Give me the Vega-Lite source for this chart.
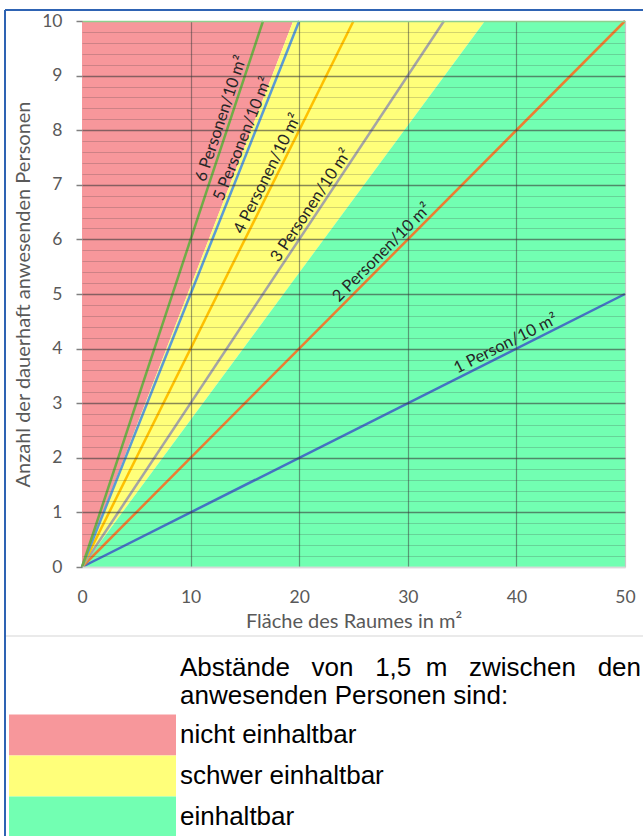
{
  "$schema": "https://vega.github.io/schema/vega-lite/v6.json",
  "width": 543,
  "height": 546,
  "autosize": {"type": "pad"},
  "padding": {"left": 4, "top": 9, "right": 0, "bottom": 0},
  "background": "white",
  "config": {"view": {"stroke": null}},
  "datasets": {
    "zones": [
      {"zone": "nicht einhaltbar", "x": 0, "y": 0, "y2": 10},
      {"zone": "nicht einhaltbar", "x": 19.45, "y": 10, "y2": 10},
      {"zone": "schwer einhaltbar", "x": 0, "y": 0, "y2": 0},
      {"zone": "schwer einhaltbar", "x": 19.45, "y": 5.24, "y2": 10},
      {"zone": "schwer einhaltbar", "x": 37.1, "y": 10, "y2": 10},
      {"zone": "einhaltbar", "x": 0, "y": 0, "y2": 0},
      {"zone": "einhaltbar", "x": 37.1, "y": 0, "y2": 10},
      {"zone": "einhaltbar", "x": 50, "y": 0, "y2": 10}
    ],
    "lines": [
      {"k": 1, "x": 0, "y": 0}, {"k": 1, "x": 50, "y": 5},
      {"k": 2, "x": 0, "y": 0}, {"k": 2, "x": 50, "y": 10},
      {"k": 3, "x": 0, "y": 0}, {"k": 3, "x": 33.33, "y": 10},
      {"k": 4, "x": 0, "y": 0}, {"k": 4, "x": 25, "y": 10},
      {"k": 5, "x": 0, "y": 0}, {"k": 5, "x": 20, "y": 10},
      {"k": 6, "x": 0, "y": 0}, {"k": 6, "x": 16.67, "y": 10}
    ],
    "labels": [
      {"k": 1, "text": "1 Person/10 m²", "x": 39.4, "y": 3.94},
      {"k": 2, "text": "2 Personen/10 m²", "x": 28.2, "y": 5.64},
      {"k": 3, "text": "3 Personen/10 m²", "x": 21.78, "y": 6.53},
      {"k": 4, "text": "4 Personen/10 m²", "x": 17.83, "y": 7.13},
      {"k": 5, "text": "5 Personen/10 m²", "x": 15.56, "y": 7.78},
      {"k": 6, "text": "6 Personen/10 m²", "x": 13.6, "y": 8.16}
    ]
  },
  "layer": [
    {
      "encoding": {
        "x": {
          "field": "x", "type": "quantitative",
          "scale": {"domain": [0, 50], "nice": false, "zero": false},
          "axis": {
            "title": "Fläche des Raumes in m²",
            "values": [0, 10, 20, 30, 40, 50],
            "grid": true,
            "gridColor": {"condition": {"test": "datum.value === 50", "value": "#c8c8c8"}, "value": "#3a3a3a"},
            "gridOpacity": {"condition": [{"test": "datum.value === 0", "value": 0}, {"test": "datum.value === 50", "value": 1}], "value": 0.5},
            "gridWidth": 1.2,
            "ticks": false,
            "tickSize": 0,
            "domain": true,
            "domainColor": "#d9d9d9",
            "domainWidth": 1.5,
            "labelFont": "Lato",
            "labelFontSize": 17.5,
            "labelColor": "#595959",
            "labelPadding": 21,
            "labelFlush": false,
            "titleFont": "Lato",
            "titleFontSize": 20,
            "titleFontWeight": "normal",
            "titleColor": "#595959",
            "titlePadding": 6,
            "zindex": 1
          }
        },
        "y": {
          "field": "y", "type": "quantitative", "stack": null,
          "scale": {"domain": [0, 10], "nice": false, "zero": false},
          "axis": {
            "title": "Anzahl der dauerhaft anwesenden Personen",
            "values": [0, 0.2, 0.4, 0.6, 0.8, 1, 1.2, 1.4, 1.6, 1.8, 2, 2.2, 2.4, 2.6, 2.8, 3, 3.2, 3.4, 3.6, 3.8, 4, 4.2, 4.4, 4.6, 4.8, 5, 5.2, 5.4, 5.6, 5.8, 6, 6.2, 6.4, 6.6, 6.8, 7, 7.2, 7.4, 7.6, 7.8, 8, 8.2, 8.4, 8.6, 8.8, 9, 9.2, 9.4, 9.6, 9.8, 10],
            "labelExpr": "datum.value % 1 === 0 ? format(datum.value, 'd') : ''",
            "labelOverlap": false,
            "grid": true,
            "gridColor": {"condition": [{"test": "datum.value === 10", "value": "#8fd08f"}, {"test": "datum.value === 0", "value": "#d9d9d9"}], "value": "#3a3a3a"},
            "gridOpacity": {"condition": [{"test": "datum.value === 10 || datum.value === 0", "value": 1}, {"test": "datum.value % 1 === 0", "value": 0.6}], "value": 0.22},
            "gridWidth": {"condition": {"test": "datum.value % 1 === 0", "value": 1.6}, "value": 1},
            "tickSize": 6,
            "tickColor": "#808080",
            "tickWidth": 1.5,
            "tickOpacity": {"condition": {"test": "datum.value % 1 === 0", "value": 1}, "value": 0},
            "domain": false,
            "labelFont": "Lato",
            "labelFontSize": 17.5,
            "labelColor": "#595959",
            "labelPadding": 14,
            "titleFont": "Lato",
            "titleFontSize": 20,
            "titleFontWeight": "normal",
            "titleColor": "#595959",
            "titlePadding": 8,
            "zindex": 1
          }
        }
      },
      "layer": [
        {
          "data": {"name": "zones"},
          "mark": {"type": "area", "opacity": 1, "interpolate": "linear"},
          "encoding": {
            "y2": {"field": "y2"},
            "fill": {
              "field": "zone", "type": "nominal",
              "scale": {"domain": ["nicht einhaltbar", "schwer einhaltbar", "einhaltbar"], "range": ["#F7979B", "#FFFF7A", "#72FFB2"]},
              "legend": {
                "title": ["Abstände\u00a0\u00a0\u00a0von\u00a0\u00a0\u00a01,5\u00a0\u00a0m\u00a0\u00a0\u00a0zwischen\u00a0\u00a0\u00a0den", "anwesenden Personen sind:"],
                "orient": "none",
                "legendX": 98,
                "legendY": 633.5,
                "direction": "vertical",
                "padding": 0,
                "offset": 0,
                "titleFont": "Liberation Sans",
                "titleFontSize": 26,
                "titleFontWeight": "normal",
                "titleColor": "#000000",
                "titleLineHeight": 28,
                "titleLimit": 700,
                "titleAnchor": "start",
                "titleAlign": "left",
                "titlePadding": 6,
                "symbolType": "M-4.073,-1H4.073V1H-4.073Z",
                "symbolSize": 1681,
                "symbolStrokeWidth": 0,
                "symbolOpacity": 1,
                "symbolOffset": -108,
                "labelOffset": 67,
                "labelFont": "Liberation Sans",
                "labelFontSize": 26,
                "labelColor": "#000000",
                "labelLimit": 500,
                "rowPadding": 0
              }
            }
          }
        },
        {
          "data": {"name": "lines"},
          "mark": {"type": "line", "strokeWidth": 2.5},
          "encoding": {
            "stroke": {
              "field": "k", "type": "nominal",
              "scale": {"domain": [1, 2, 3, 4, 5, 6], "range": ["#4472C4", "#ED7D31", "#A5A5A5", "#FFC000", "#5B9BD5", "#70AD47"]},
              "legend": null
            }
          }
        },
        {
          "data": {"name": "labels"},
          "mark": {"type": "text", "font": "Lato", "fontSize": 16.5, "color": "#262626", "align": "center", "baseline": "alphabetic", "dy": -4},
          "encoding": {
            "text": {"field": "text"},
            "angle": {
              "field": "k", "type": "quantitative",
              "scale": {"type": "linear", "domain": [1, 2, 3, 4, 5, 6], "range": [333.31, 314.84, 303.55, 296.44, 291.7, 288.34]},
              "legend": null
            }
          }
        }
      ]
    },
    {
      "encoding": {
        "x": {
          "datum": -7.09, "type": "quantitative",
          "scale": {"domain": [0, 50], "nice": false, "zero": false},
          "axis": {
            "title": "Fläche des Raumes in m²",
            "values": [0, 10, 20, 30, 40, 50],
            "grid": true,
            "gridColor": {"condition": {"test": "datum.value === 50", "value": "#c8c8c8"}, "value": "#3a3a3a"},
            "gridOpacity": {"condition": [{"test": "datum.value === 0", "value": 0}, {"test": "datum.value === 50", "value": 1}], "value": 0.5},
            "gridWidth": 1.2,
            "ticks": false,
            "tickSize": 0,
            "domain": true,
            "domainColor": "#d9d9d9",
            "domainWidth": 1.5,
            "labelFont": "Lato",
            "labelFontSize": 17.5,
            "labelColor": "#595959",
            "labelPadding": 21,
            "labelFlush": false,
            "titleFont": "Lato",
            "titleFontSize": 20,
            "titleFontWeight": "normal",
            "titleColor": "#595959",
            "titlePadding": 6,
            "zindex": 1
          }
        },
        "y": {
          "datum": 10.2, "type": "quantitative",
          "scale": {"domain": [0, 10], "nice": false, "zero": false},
          "axis": {
            "title": "Anzahl der dauerhaft anwesenden Personen",
            "values": [0, 0.2, 0.4, 0.6, 0.8, 1, 1.2, 1.4, 1.6, 1.8, 2, 2.2, 2.4, 2.6, 2.8, 3, 3.2, 3.4, 3.6, 3.8, 4, 4.2, 4.4, 4.6, 4.8, 5, 5.2, 5.4, 5.6, 5.8, 6, 6.2, 6.4, 6.6, 6.8, 7, 7.2, 7.4, 7.6, 7.8, 8, 8.2, 8.4, 8.6, 8.8, 9, 9.2, 9.4, 9.6, 9.8, 10],
            "labelExpr": "datum.value % 1 === 0 ? format(datum.value, 'd') : ''",
            "labelOverlap": false,
            "grid": true,
            "gridColor": {"condition": [{"test": "datum.value === 10", "value": "#8fd08f"}, {"test": "datum.value === 0", "value": "#d9d9d9"}], "value": "#3a3a3a"},
            "gridOpacity": {"condition": [{"test": "datum.value === 10 || datum.value === 0", "value": 1}, {"test": "datum.value % 1 === 0", "value": 0.6}], "value": 0.22},
            "gridWidth": {"condition": {"test": "datum.value % 1 === 0", "value": 1.6}, "value": 1},
            "tickSize": 6,
            "tickColor": "#808080",
            "tickWidth": 1.5,
            "tickOpacity": {"condition": {"test": "datum.value % 1 === 0", "value": 1}, "value": 0},
            "domain": false,
            "labelFont": "Lato",
            "labelFontSize": 17.5,
            "labelColor": "#595959",
            "labelPadding": 14,
            "titleFont": "Lato",
            "titleFontSize": 20,
            "titleFontWeight": "normal",
            "titleColor": "#595959",
            "titlePadding": 8,
            "zindex": 1
          }
        }
      },
      "layer": [
        {
          "data": {"values": [{"edge": "left"}]},
          "mark": {"type": "rule", "color": "#2E63B3", "strokeWidth": 2},
          "encoding": {"y2": {"datum": -4.95}}
        },
        {
          "data": {"values": [{"edge": "top"}]},
          "mark": {"type": "rule", "color": "#2E63B3", "strokeWidth": 2},
          "encoding": {"x2": {"datum": 51.7}}
        },
        {
          "data": {"values": [{"edge": "separator"}]},
          "mark": {"type": "rule", "color": "#e3e3e3", "strokeWidth": 1.5},
          "encoding": {
            "x": {"datum": -7.0, "type": "quantitative", "scale": {"domain": [0, 50], "nice": false, "zero": false}},
            "x2": {"datum": 51.7},
            "y": {"datum": -1.264, "type": "quantitative", "scale": {"domain": [0, 10], "nice": false, "zero": false}}
          }
        }
      ]
    }
  ]
}
